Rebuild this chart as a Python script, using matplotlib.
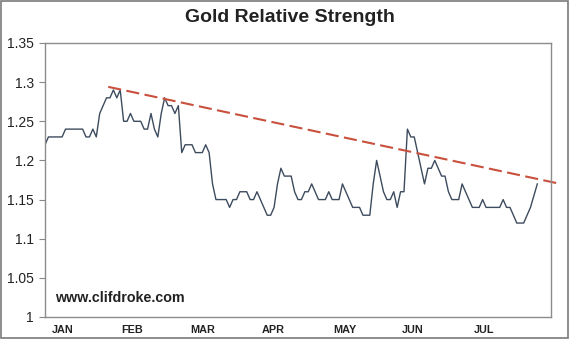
import numpy as np
import matplotlib
matplotlib.use('Agg')
import matplotlib.pyplot as plt
from matplotlib.patches import Rectangle

# gold relative strength, one value per trading day (Jan -> mid Jul)
strength = [
    1.22, 1.23, 1.23, 1.23, 1.23, 1.23, 1.24, 1.24, 1.24, 1.24,
    1.24, 1.24, 1.23, 1.23, 1.24, 1.23, 1.26, 1.27, 1.28, 1.28,
    1.29, 1.28, 1.29, 1.25, 1.25, 1.26, 1.25, 1.25, 1.25, 1.24,
    1.24, 1.26, 1.24, 1.23, 1.26, 1.28, 1.27, 1.27, 1.26, 1.27,
    1.21, 1.22, 1.22, 1.22, 1.21, 1.21, 1.21, 1.22, 1.21, 1.17,
    1.15, 1.15, 1.15, 1.15, 1.14, 1.15, 1.15, 1.16, 1.16, 1.16,
    1.15, 1.15, 1.16, 1.15, 1.14, 1.13, 1.13, 1.14, 1.17, 1.19,
    1.18, 1.18, 1.18, 1.16, 1.15, 1.15, 1.16, 1.16, 1.17, 1.16,
    1.15, 1.15, 1.15, 1.16, 1.15, 1.15, 1.15, 1.17, 1.16, 1.15,
    1.14, 1.14, 1.14, 1.13, 1.13, 1.13, 1.17, 1.20, 1.18, 1.16,
    1.15, 1.15, 1.16, 1.14, 1.16, 1.16, 1.24, 1.23, 1.23, 1.21,
    1.19, 1.17, 1.19, 1.19, 1.20, 1.19, 1.18, 1.18, 1.16, 1.15,
    1.15, 1.15, 1.17, 1.16, 1.15, 1.14, 1.14, 1.14, 1.15, 1.14,
    1.14, 1.14, 1.14, 1.14, 1.15, 1.14, 1.14, 1.13, 1.12, 1.12,
    1.12, 1.13, 1.14, 1.155, 1.17,
]

# falling resistance line (day, value) at both ends
trend_days = [18.5, 149.7]
trend_vals = [1.294, 1.171]

months = ['JAN', 'FEB', 'MAR', 'APR', 'MAY', 'JUN', 'JUL']
month_pos = [5.3, 25.4, 46.2, 66.7, 87.7, 107.6, 128.4]

yticks = [1, 1.05, 1.1, 1.15, 1.2, 1.25, 1.3, 1.35]
ylabels = ['1', '1.05', '1.1', '1.15', '1.2', '1.25', '1.3', '1.35']

plt.rcParams['font.family'] = ['Liberation Sans', 'DejaVu Sans']

fig = plt.figure(figsize=(5.7, 3.39), dpi=100)
fig.patch.set_facecolor('white')
ax = fig.add_axes([45/570, 22/339, 506/570, 274/339])

days = np.arange(len(strength))
ax.plot(days, strength, color='#3d4b5e', lw=1.0)
ax.plot(trend_days, trend_vals, color='#c8503c', lw=1.5,
        dashes=(6.3, 2.6), clip_on=False)

ax.set_xlim(0, 148)
ax.set_ylim(1, 1.35)
ax.set_yticks(yticks)
ax.set_yticklabels(ylabels, fontsize=10, color='#222222')
ax.set_xticks(month_pos)
ax.set_xticklabels(months, fontsize=7.8, fontweight='bold', color='#222222')
ax.tick_params(axis='x', length=0, pad=6)
ax.tick_params(axis='y', length=4, width=0.8, color='#888888', pad=4)
for s in ax.spines.values():
    s.set_color('#8c8c8c')
    s.set_linewidth(1.0)

ax.text(0.02, 0.07, 'www.clifdroke.com', transform=ax.transAxes,
        fontsize=10.3, fontweight='bold', color='#222222', va='center')

fig.text(0.508, 0.947, 'Gold Relative Strength', ha='center', va='center',
         fontsize=14, fontweight='bold', color='#222222')

# outer frame round the whole picture
fig.patches.append(Rectangle((0.002, 0.004), 0.994, 0.993, transform=fig.transFigure,
                             fill=False, edgecolor='#7a7a7a', lw=1.2))

fig.savefig('out.png', dpi=100)
